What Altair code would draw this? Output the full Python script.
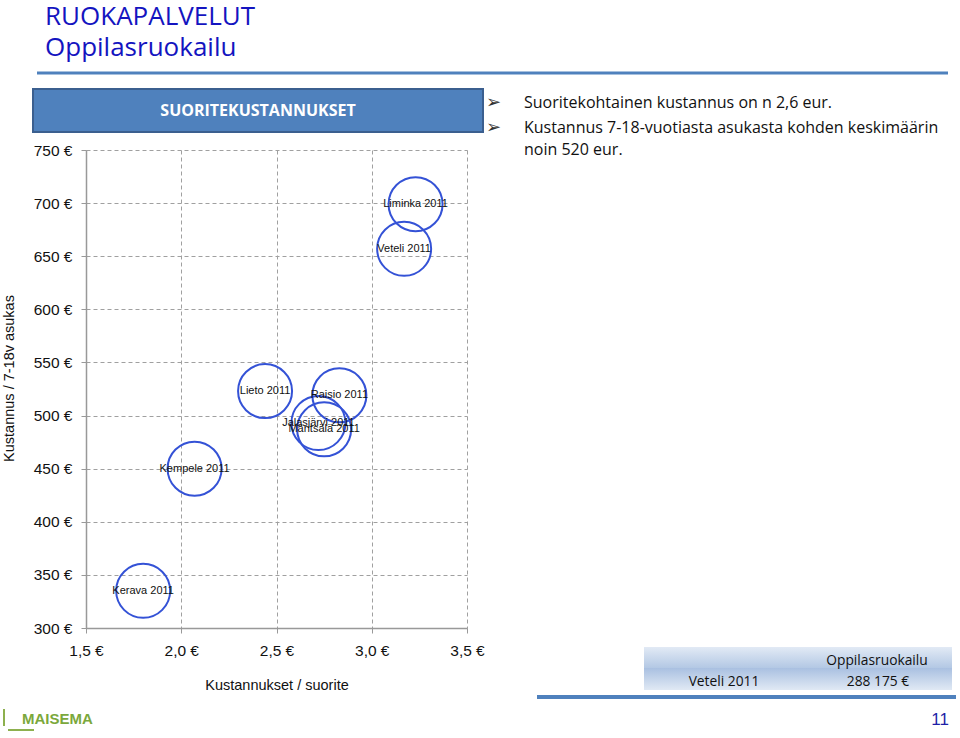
import altair as alt
import pandas as pd

# ---------------- data ----------------
towns = ["Liminka 2011", "Veteli 2011", "Lieto 2011", "Raisio 2011",
         "Jalasjärvi 2011", "Mäntsälä 2011", "Kempele 2011", "Kerava 2011"]
cost_per_unit = [3.23, 3.17, 2.44, 2.83, 2.72, 2.75, 2.07, 1.80]
cost_per_resident = [699, 657, 523, 519, 493, 487, 450, 335]
x_ticks = [1.5, 2.0, 2.5, 3.0, 3.5]
y_ticks = [300, 350, 400, 450, 500, 550, 600, 650, 700, 750]

slide_title = "RUOKAPALVELUT"
slide_subtitle = "Oppilasruokailu"
box_title = "SUORITEKUSTANNUKSET"
bullets = ["Suoritekohtainen kustannus on n 2,6 eur.",
           "Kustannus 7-18-vuotiasta asukasta kohden keskimäärin",
           "noin 520 eur."]
table_header = "Oppilasruokailu"
table_row_label = "Veteli 2011"
table_row_value = "288 175 €"
page_no = "11"

# ---------------- layout ----------------
OX, OY = 86, 150          # plot origin on the page
W, H = 381, 478           # plot area
NARROW = "Liberation Sans Narrow, Arial Narrow, Liberation Sans, Arial"
SANS = "Open Sans, Noto Sans, DejaVu Sans"

df = pd.DataFrame({"kunta": towns, "x": cost_per_unit, "y": cost_per_resident})
one = pd.DataFrame({"k": [0]})

xs = alt.Scale(domain=[1.5, 3.5], nice=False, zero=False)
ys = alt.Scale(domain=[300, 750], nice=False, zero=False)

x_axis = alt.Axis(
    values=x_ticks,
    labelExpr="replace(format(datum.value, '.1f'), '.', ',') + ' €'",
    title="Kustannukset / suorite",
    labelFont=NARROW, labelFontSize=15.5, labelColor="#111111", labelPadding=10,
    titleFont=NARROW, titleFontSize=14.5, titleFontWeight="normal", titleColor="#111111",
    titlePadding=20,
    tickSize=5, tickColor="#999999", domainColor="#999999", domainWidth=1.5,
    grid=True, gridDash=[4, 3], gridColor="#a0a0a0", gridWidth=1,
    labelFlush=False,
)
y_axis = alt.Axis(
    values=y_ticks,
    labelExpr="format(datum.value, 'd') + ' €'",
    title="Kustannus / 7-18v asukas",
    labelFont=NARROW, labelFontSize=15.5, labelColor="#111111", labelPadding=9,
    titleFont=NARROW, titleFontSize=14.5, titleFontWeight="normal", titleColor="#111111",
    titleX=9 - OX, titleY=378 - OY, titleBaseline="middle", titleAlign="center",
    tickSize=5, tickColor="#999999", domainColor="#999999", domainWidth=1.5,
    grid=True, gridDash=[4, 3], gridColor="#a0a0a0", gridWidth=1,
    labelFlush=False,
)

base = alt.Chart(df)
points = base.mark_point(shape="circle", filled=False, size=2916,
                         stroke="#3452d6", strokeWidth=2, opacity=1).encode(
    x=alt.X("x:Q", scale=xs, axis=x_axis),
    y=alt.Y("y:Q", scale=ys, axis=y_axis),
)
labels = base.mark_text(font=NARROW, fontSize=11, color="#111111",
                        align="center", baseline="middle").encode(
    x="x:Q", y="y:Q", text="kunta:N")


def txt(s, x, y, **kw):
    return alt.Chart(one).mark_text(text=s, **kw).encode(
        x=alt.value(x - OX), y=alt.value(y - OY))


def rect(x1, y1, x2, y2, **kw):
    return alt.Chart(one).mark_rect(**kw).encode(
        x=alt.value(x1 - OX), x2=alt.value(x2 - OX),
        y=alt.value(y1 - OY), y2=alt.value(y2 - OY))


def hline(x1, x2, y, **kw):
    return alt.Chart(one).mark_rule(**kw).encode(
        x=alt.value(x1 - OX), x2=alt.value(x2 - OX), y=alt.value(y - OY))


def vline(x, y1, y2, **kw):
    return alt.Chart(one).mark_rule(**kw).encode(
        x=alt.value(x - OX), y=alt.value(y1 - OY), y2=alt.value(y2 - OY))


TITLE_BLUE = "#1414c0"
deco = [
    txt(slide_title, 45, 24.5, font=SANS, fontSize=26, color=TITLE_BLUE, align="left", baseline="alphabetic"),
    txt(slide_subtitle, 45, 56, font=SANS, fontSize=26, color=TITLE_BLUE, align="left", baseline="alphabetic"),
    hline(37, 948, 73, color="#4f81bd", strokeWidth=3),
    rect(33, 89, 483, 132, color="#4f81bd", stroke="#3b5f8f", strokeWidth=2),
    txt(box_title, 258, 111, font=SANS, fontSize=16, fontWeight="bold", color="white",
        align="center", baseline="middle"),
    txt("➢", 486, 103, font="DejaVu Sans", fontSize=18, color="#333333", align="left", baseline="middle"),
    txt("➢", 486, 128, font="DejaVu Sans", fontSize=18, color="#333333", align="left", baseline="middle"),
    txt(bullets[0], 524, 103, font=SANS, fontSize=16, color="#111111", align="left", baseline="middle"),
    txt(bullets[1], 524, 128, font=SANS, fontSize=16, color="#111111", align="left", baseline="middle"),
    txt(bullets[2], 524, 150, font=SANS, fontSize=16, color="#111111", align="left", baseline="middle"),
    rect(644, 647, 952, 668, color=alt.LinearGradient(
        gradient="linear", x1=0, x2=0, y1=0, y2=1,
        stops=[alt.GradientStop(color="#e2eaf5", offset=0),
               alt.GradientStop(color="#b3c8e4", offset=1)])),
    rect(644, 668, 952, 690, color=alt.LinearGradient(
        gradient="linear", x1=0, x2=0, y1=0, y2=1,
        stops=[alt.GradientStop(color="#a9c0e1", offset=0),
               alt.GradientStop(color="#e0e9f4", offset=1)])),
    txt(table_header, 877, 661, font=SANS, fontSize=13.8, color="#111111", align="center", baseline="middle"),
    txt(table_row_label, 724, 682, font=SANS, fontSize=13.8, color="#111111", align="center", baseline="middle"),
    txt(table_row_value, 878, 682, font=SANS, fontSize=13.8, color="#111111", align="center", baseline="middle"),
    hline(537, 956, 697, color="#4f81bd", strokeWidth=4),
    txt(page_no, 949, 720, font="Liberation Sans, Arial", fontSize=17, color="#1f1fa8",
        align="right", baseline="middle"),
    txt("MAISEMA", 22, 719, font=NARROW, fontSize=15, fontWeight="bold", color="#7ba83c",
        align="left", baseline="middle"),
    vline(4, 709, 726, color="#8db04e", strokeWidth=2),
    hline(8, 34, 730, color="#8db04e", strokeWidth=2),
]

chart = alt.layer(points, labels, *deco).properties(
    width=W, height=H,
    padding={"left": OX, "top": OY, "right": 960 - OX - W, "bottom": 738 - OY - H},
    autosize=alt.AutoSizeParams(type="none"),
    background="white",
).configure_view(strokeWidth=0)

chart.save("out.html", embed_options={"renderer": "svg", "actions": False})
